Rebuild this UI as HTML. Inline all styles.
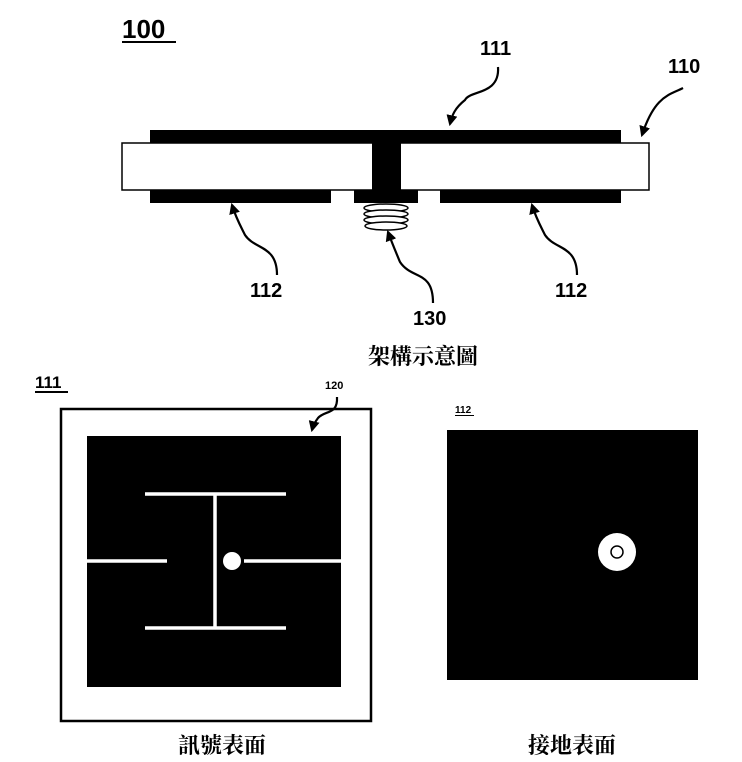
<!DOCTYPE html>
<html><head><meta charset="utf-8"><style>
html,body{margin:0;padding:0;background:#fff;}
svg{display:block}
.l{font-family:"Liberation Sans",sans-serif;font-weight:bold;fill:#000}
.c{font-family:"Liberation Serif","Noto Serif CJK SC",serif;font-weight:bold;font-size:22px;fill:#000}
</style></head><body>
<svg width="742" height="762" viewBox="0 0 742 762" xmlns="http://www.w3.org/2000/svg">
<defs><marker id="a" viewBox="0 0 10 10" refX="8" refY="5" markerWidth="5" markerHeight="5" orient="auto"><path d="M0,0 L10,5 L0,10 z" fill="#000"/></marker></defs>
<text x="122" y="38" class="l" font-size="26">100</text>
<rect x="122" y="41" width="54" height="2" fill="#000"/>
<!-- board -->
<rect x="150" y="130" width="471" height="14" fill="#000"/>
<rect x="122" y="143" width="527" height="47" fill="#fff" stroke="#000" stroke-width="1.5"/>
<rect x="372" y="143" width="29" height="48" fill="#000"/>
<rect x="150" y="190" width="181" height="13" fill="#000"/>
<rect x="354" y="190" width="64" height="13" fill="#000"/>
<rect x="440" y="190" width="181" height="13" fill="#000"/>
<g fill="#fff" stroke="#000" stroke-width="1.5">
<ellipse cx="386" cy="208" rx="22" ry="4"/><ellipse cx="386" cy="214" rx="22" ry="4"/><ellipse cx="386" cy="220" rx="22" ry="4"/><ellipse cx="386" cy="226" rx="21" ry="4"/>
</g>
<text x="423" y="364" class="c" text-anchor="middle">架構示意圖</text>
<!-- signal surface -->
<text x="35" y="388" class="l" font-size="17">111</text>
<rect x="35" y="391" width="33" height="2" fill="#000"/>
<text x="325" y="389" class="l" font-size="11">120</text>
<rect x="61" y="409" width="310" height="312" fill="#fff" stroke="#000" stroke-width="2.5"/>
<rect x="87" y="436" width="254" height="251" fill="#000"/>
<g stroke="#fff" stroke-width="3.5">
<line x1="145" y1="494" x2="286" y2="494"/>
<line x1="145" y1="628" x2="286" y2="628"/>
<line x1="215" y1="494" x2="215" y2="628"/>
<line x1="87" y1="561" x2="167" y2="561"/>
<line x1="244" y1="561" x2="341" y2="561"/>
</g>
<circle cx="232" cy="561" r="9" fill="#fff"/>
<text x="222" y="753" class="c" text-anchor="middle">訊號表面</text>
<g fill="none" stroke="#000" stroke-width="2.2" marker-end="url(#a)">
<path d="M498,67 C500,95 470,90 465,100 C455,108 452,115 450,124"/>
<path d="M683,88 C670,95 655,95 642,135"/>
<path d="M277,275 C277,245 255,250 245,235 C240,225 236,218 232,205"/>
<path d="M433,303 C433,270 412,280 400,262 C395,250 392,243 388,232"/>
<path d="M577,275 C577,245 555,250 545,235 C540,225 536,218 532,205"/>
<path d="M337,397 C338,415 325,410 318,418 C315,422 313,426 312,430"/>
</g>
<text x="480" y="55" class="l" font-size="20">111</text>
<text x="668" y="73" class="l" font-size="20">110</text>
<text x="250" y="297" class="l" font-size="20">112</text>
<text x="413" y="325" class="l" font-size="20">130</text>
<text x="555" y="297" class="l" font-size="20">112</text>
<!-- ground surface -->
<text x="455" y="413" class="l" font-size="10">112</text>
<rect x="455" y="415" width="19" height="1" fill="#000"/>
<rect x="447" y="430" width="251" height="250" fill="#000"/>
<circle cx="617" cy="552" r="19" fill="#fff"/>
<circle cx="617" cy="552" r="6" fill="#fff" stroke="#000" stroke-width="1.5"/>
<text x="572" y="753" class="c" text-anchor="middle">接地表面</text>
</svg>
</body></html>
